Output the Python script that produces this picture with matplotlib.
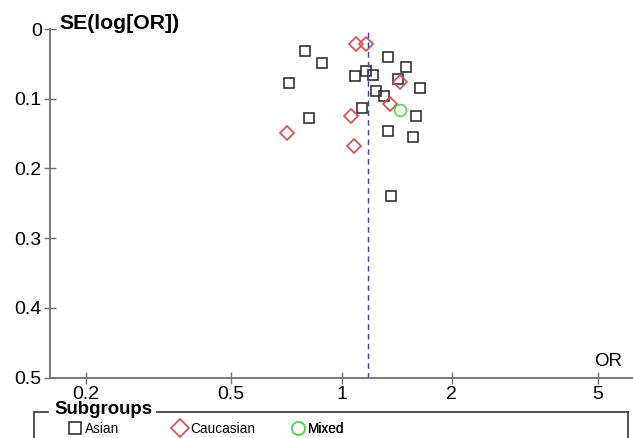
import numpy as np
import matplotlib
matplotlib.use('Agg')
import matplotlib.pyplot as plt
from matplotlib.lines import Line2D

plt.rcParams['font.family'] = ['Liberation Sans', 'DejaVu Sans']

# study estimates
asian_or = [0.795, 0.883, 1.343, 1.504, 1.167, 1.087, 1.219, 0.721, 1.424,
            1.639, 1.240, 1.306, 1.138, 0.815, 1.595, 1.343, 1.565, 1.369]
asian_se = [0.032, 0.048, 0.040, 0.054, 0.060, 0.067, 0.066, 0.078, 0.072,
            0.084, 0.089, 0.096, 0.113, 0.128, 0.125, 0.146, 0.155, 0.240]
cauc_or = [1.098, 1.170, 1.442, 1.357, 1.060, 0.708, 1.085]
cauc_se = [0.022, 0.022, 0.076, 0.108, 0.125, 0.149, 0.168]
mixed_or = [1.44]
mixed_se = [0.116]
pooled_or = 1.18

groups = ['Asian', 'Caucasian', 'Mixed']
xticks = [0.2, 0.5, 1, 2, 5]
yticks = [0, 0.1, 0.2, 0.3, 0.4, 0.5]

W, H = 633, 438
fig = plt.figure(figsize=(W / 100, H / 100), dpi=100)
ax = fig.add_axes([0.079, 0.1377, 0.921, 0.796])

styles = [dict(marker='s', mec='#333333'),
          dict(marker='D', mec='#e0474c'),
          dict(marker='o', mec='#55d655')]
plot_ms = [7.5, 7.5, 8.5]
leg_ms = [8.5, 9.5, 9.5]

data = [(asian_or, asian_se), (cauc_or, cauc_se), (mixed_or, mixed_se)]
for (xs, ys), st, ms in zip(data, styles, plot_ms):
    ax.plot(xs, ys, ls='none', ms=ms, mfc='none', mew=1.2, **st)
ax.axvline(pooled_or, color='#3a3acc', ls=(0, (4, 3)), lw=1)

ax.set_xscale('log')
ax.set_xlim(0.16, 6.25)
ax.set_ylim(0.5, 0)
ax.set_xticks(xticks)
ax.set_xticklabels([str(t) for t in xticks])
ax.minorticks_off()
ax.set_yticks(yticks)
ax.set_yticklabels(['0', '0.1', '0.2', '0.3', '0.4', '0.5'])

for s in ['top', 'right']:
    ax.spines[s].set_visible(False)
for s in ['left', 'bottom']:
    ax.spines[s].set_color('#707070')
    ax.spines[s].set_linewidth(1.3)
ax.tick_params(direction='inout', length=8, width=1, color='#707070',
               labelsize=14)
ax.tick_params(axis='x', pad=2)
ax.tick_params(axis='y', pad=2)

ax.text(0.017, 1.016, 'SE(log[OR])', transform=ax.transAxes, fontsize=15.3,
        fontweight='bold', va='center', ha='left')
ax.text(0.982, 0.034, 'OR', transform=ax.transAxes, fontsize=13.5,
        va='baseline', ha='right')

# legend frame, title breaks the top edge
top = 25.7
frame = [([33.5, 33.5], [-5, top]), ([628, 628], [-5, top]),
         ([33.5, 48], [top, top]), ([157, 628], [top, top])]
for fx, fy in frame:
    fig.add_artist(Line2D([v / W for v in fx], [v / H for v in fy],
                          transform=fig.transFigure, color='#444444', lw=1.3))
fig.text(54 / W, 28 / H, 'Subgroups', fontsize=13.4, fontweight='bold',
         va='center', ha='left')

# one legend per subgroup so the column positions follow the reference
starts = [70, 175, 293]
for name, st, ms, x0 in zip(groups, styles, leg_ms, starts):
    h = Line2D([], [], ls='none', ms=ms, mfc='none', mew=1.2, **st)
    leg = ax.legend([h], [name], loc='center left',
                    bbox_to_anchor=(x0 / W, 9 / H),
                    bbox_transform=fig.transFigure, frameon=False,
                    fontsize=9.8, handlelength=0.8, handletextpad=0.3,
                    borderpad=0, borderaxespad=0)
    ax.add_artist(leg)

fig.savefig('out.png', dpi=100)
